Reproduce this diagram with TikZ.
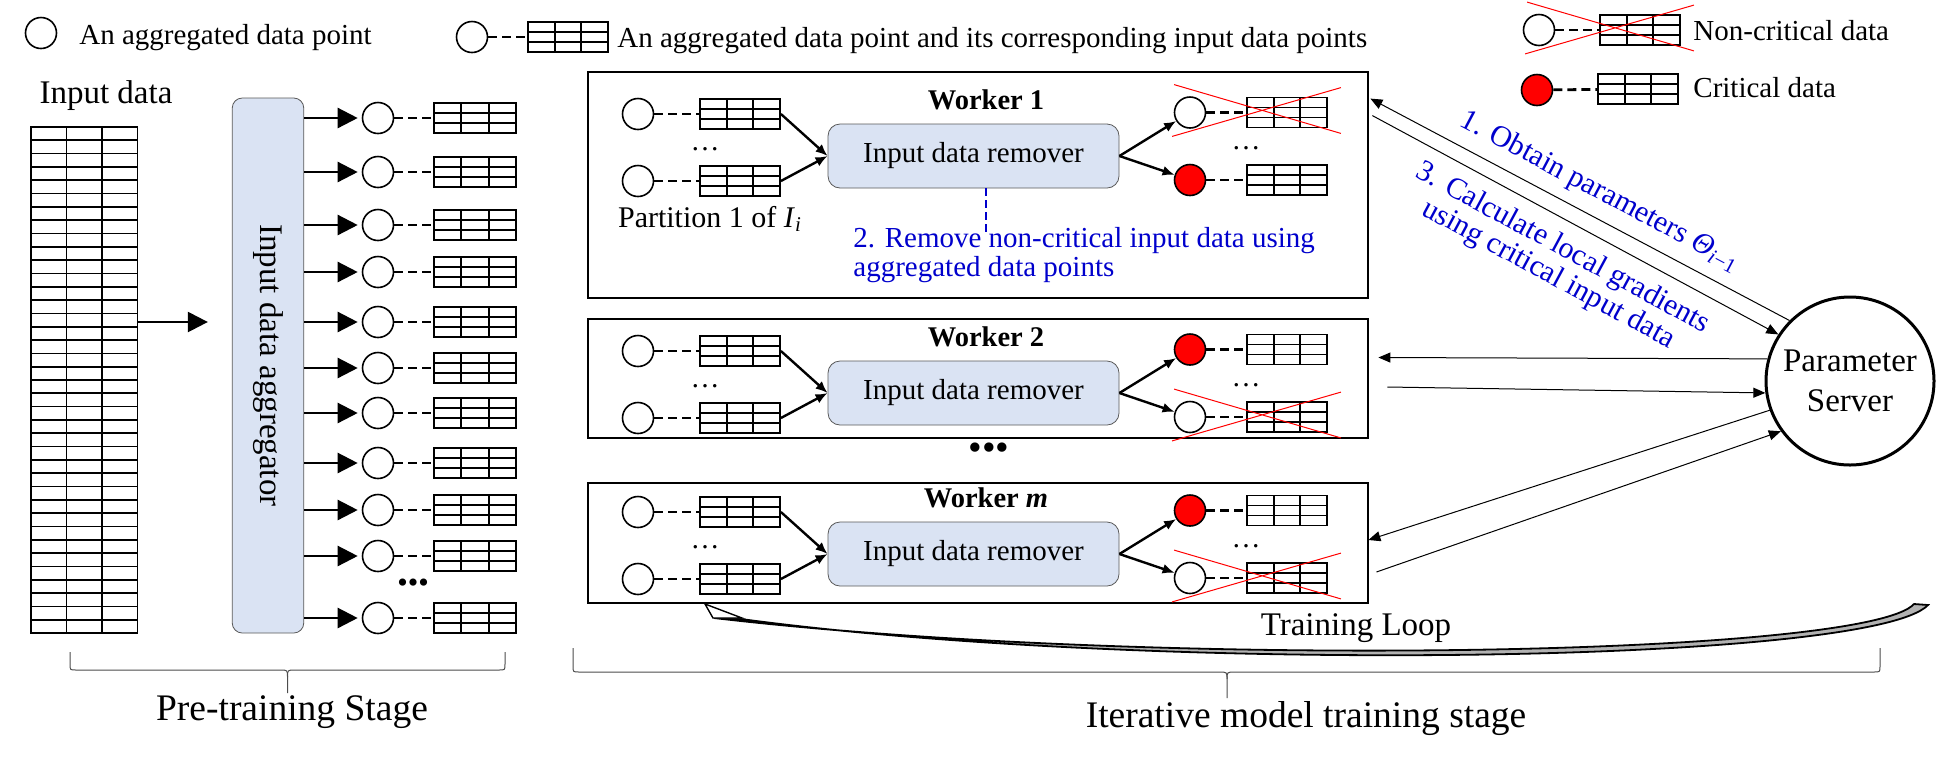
\documentclass[tikz,border=0pt]{standalone}
\usepackage{fontspec}
\setmainfont{Liberation Serif}
\usepackage{tikz}
\usetikzlibrary{arrows.meta, calc}
\usepackage{xcolor}
\definecolor{boxblue}{RGB}{218,227,243}
\definecolor{stepblue}{RGB}{0,0,204}

\begin{document}
\begin{tikzpicture}[x=0.5pt, y=-0.5pt,
    aggpt/.style={circle, draw, line width=0.8pt, minimum size=15.5pt, inner sep=0pt},
    crit/.style={aggpt, fill=red},
    tab/.style={draw, line width=0.9pt, minimum width=40pt, minimum height=15pt, inner sep=0pt,
      path picture={
        \foreach \k in {1,2} {
          \draw[line width=0.9pt] ($(path picture bounding box.north west)!\k/3!(path picture bounding box.north east)$) -- ($(path picture bounding box.south west)!\k/3!(path picture bounding box.south east)$);
          \draw[line width=0.9pt] ($(path picture bounding box.north west)!\k/3!(path picture bounding box.south west)$) -- ($(path picture bounding box.north east)!\k/3!(path picture bounding box.south east)$);
        }}},
    inputtab/.style={draw, line width=0.85pt, minimum width=53.25pt, minimum height=253pt, inner sep=0pt,
      path picture={
        \foreach \k in {1,...,37}
          \draw[line width=0.85pt] ($(path picture bounding box.north west)!\k/38!(path picture bounding box.south west)$) -- ($(path picture bounding box.north east)!\k/38!(path picture bounding box.south east)$);
        \foreach \k in {1,2}
          \draw[line width=0.85pt] ($(path picture bounding box.north west)!\k/3!(path picture bounding box.north east)$) -- ($(path picture bounding box.south west)!\k/3!(path picture bounding box.south east)$);
      }},
    link/.style={line width=1.4pt, dash pattern=on 4.5pt off 2.5pt},
    bigarrow/.style={line width=1.2pt, -{Triangle[length=10pt,width=10pt]}},
    warrow/.style={line width=1.2pt, -{Latex[length=6pt,width=5pt]}},
    psarrow/.style={line width=0.5pt, -{Triangle[length=6pt,width=5pt]}},
    remover/.style={draw=black!65, fill=boxblue, rounded corners=6pt, minimum width=145.5pt, minimum height=32pt, font=\fontsize{14.5}{17}\selectfont},
    wbox/.style={draw, line width=1.4pt, minimum width=390pt, inner sep=0pt},
    wtitle/.style={font=\fontsize{14.25}{17}\selectfont\bfseries},
    xline/.style={red, line width=0.5pt},
    brace/.style={black!70, line width=0.5pt},
    legend/.style={font=\fontsize{14.5}{17}\selectfont, inner sep=0pt},
    steptext/.style={stepblue, font=\fontsize{14.5}{14.5}\selectfont, align=left, inner sep=0pt}]
    \useasboundingbox (0,0) rectangle (1958,762);

    % legend
    \node[aggpt] (lg1) at (41,33) {};
    \node[legend, anchor=base west] (lg1t) at (79,44) {An aggregated data point};
    \node[aggpt] (lg2) at (472,37) {};
    \node[tab] (lg2tab) at (568,37) {};
    \draw[link] (lg2) -- (lg2tab);
    \node[legend, anchor=base west] (lg2t) at (617,47) {An aggregated data point and its corresponding input data points};
    \node[aggpt] (lg3) at (1539,30) {};
    \node[tab] (lg3tab) at (1640,30) {};
    \draw[link] (lg3) -- (lg3tab);
    \node[legend, anchor=base west] (lg3t) at (1693,40) {Non-critical data};
    \node[crit] (lg4) at (1537,90) {};
    \node[tab] (lg4tab) at (1638,89) {};
    \draw[link] (lg4) -- (lg4tab);
    \node[legend, anchor=base west] (lg4t) at (1693,97) {Critical data};

    % pre-training stage
    \node[font=\fontsize{16.5}{20}\selectfont, anchor=base] (inlabel) at (106,103) {Input data};
    \node[inputtab] (inp) at (84.25,380) {};
    \node[draw=black!65, fill=boxblue, rounded corners=5pt, rotate=-90, minimum width=267.5pt, minimum height=35.75pt,
          inner sep=0pt, font=\fontsize{16.5}{20}\selectfont] (agg) at (268,365.5) {Input data aggregator};
    \draw[bigarrow, shorten >=12pt] (inp.east |- 0,322) -- (agg.south |- 0,322);
    \foreach \y [count=\i] in {118,172,225,272,322,368,413,463,510,556,618} {
        \node[aggpt] (pc\i) at (378,\y) {};
        \node[tab, minimum width=41pt] (ptab\i) at (475,\y) {};
        \draw[bigarrow, shorten >=2pt] (agg.north |- pc\i) -- (pc\i);
        \draw[link] (pc\i) -- (ptab\i);
    }
    \node[font=\fontsize{15}{15}\selectfont] (pdots) at (413,586) {\textbullet\textbullet\textbullet};
    \draw[brace] (70,652) -- (70,664) .. controls (70,670) .. (76,670) -- (280,670) .. controls (287.5,670) .. (287.5,677) -- (287.5,693);
    \draw[brace] (505,652) -- (505,664) .. controls (505,670) .. (499,670) -- (295,670) .. controls (287.5,670) .. (287.5,677);
    \node[font=\fontsize{18.75}{22}\selectfont, anchor=base] (pretxt) at (292,720) {Pre-training Stage};

    % workers
    \node[wbox, minimum height=113pt] (w1) at (978,185) {};
    \node[wbox, minimum height=59.5pt] (w2) at (978,378.5) {};
    \node[wbox, minimum height=60pt] (wm) at (978,543) {};
    \foreach \w/\yb/\ttl/\ca/\cb in {1/147.5/Worker 1/aggpt/crit, 2/384.5/Worker 2/crit/aggpt, m/545.5/Worker \textit{m}/crit/aggpt} {
        \node[wtitle, anchor=base] (wt\w) at (986,\yb-38) {\ttl};
        \node[aggpt] (lca\w) at (638,\yb-33.5) {};
        \node[aggpt] (lcb\w) at (638,\yb+33.5) {};
        \node[tab] (lta\w) at (740,\yb-33.5) {};
        \node[tab] (ltb\w) at (740,\yb+33.5) {};
        \draw[link] (lca\w) -- (lta\w);
        \draw[link] (lcb\w) -- (ltb\w);
        \node[font=\fontsize{14.5}{17}\selectfont] (ldots\w) at (705,\yb+2) {\dots};
        \node[remover] (rem\w) at (973.5,\yb+8.5) {Input data remover};
        \draw[warrow] (lta\w.east) -- (rem\w.west);
        \draw[warrow] (ltb\w.east) -- (rem\w.west);
        \node[\ca] (rca\w) at (1190,\yb-35) {};
        \node[\cb] (rcb\w) at (1190,\yb+32.5) {};
        \node[tab] (rta\w) at (1287,\yb-35) {};
        \node[tab] (rtb\w) at (1287,\yb+32.5) {};
        \draw[link] (rca\w) -- (rta\w);
        \draw[link] (rcb\w) -- (rtb\w);
        \node[font=\fontsize{14.5}{17}\selectfont] (rdots\w) at (1246,\yb+1) {\dots};
        \draw[warrow] (rem\w.east) -- (rca\w);
        \draw[warrow] (rem\w.east) -- (rcb\w);
    }
    % crossed out (non-critical)
    \foreach \t in {lg3tab, rta1, rtb2, rtbm}
        \draw[xline] ($(\t.north west)+(-72,-12)$) -- ($(\t.south east)+(13,5)$)
                     ($(\t.south west)+(-74,8)$) -- ($(\t.north east)+(13,-9)$);
    \node[font=\fontsize{19.5}{20}\selectfont] (wdots) at (989,452) {\textbullet\textbullet\textbullet};

    % worker 1 labels
    \node[anchor=base west, font=\fontsize{15}{18}\selectfont] (part) at (611,227) {Partition 1 of \textit{I}\textsubscript{\textit{i}}};
    \draw[stepblue, line width=1pt, dash pattern=on 4pt off 2pt] ($(rem1.south)+(12,0)$) -- ++(0,47);
    \node[steptext, anchor=north west] (step2) at (853,227) {2. Remove non-critical input data using\\aggregated data points};

    % parameter server
    \node[circle, draw, line width=1.5pt, minimum size=84pt, align=center, inner sep=0pt,
          font=\fontsize{16.5}{20}\selectfont] (ps) at (1850,381) {Parameter\\Server};
    \draw[psarrow] (ps.135) -- ($(w1.north east)+(1,28)$)
        node[pos=0.48, above=2pt, sloped, stepblue, font=\fontsize{15}{15}\selectfont] {1. Obtain parameters \textit{Θ}\textsubscript{\textit{i}−1}};
    \draw[psarrow] ($(w1.north east)+(3,45)$) -- (ps.147)
        node[midway, below=3pt, sloped, align=center, stepblue, font=\fontsize{15}{15}\selectfont] {3. Calculate local gradients\\using critical input data};
    \draw[psarrow] (ps.165) -- ($(w2.east)+(9,-21)$);
    \draw[psarrow] ($(w2.east)+(18,8.5)$) -- (ps.188);
    \draw[psarrow] (ps.200) -- ($(wm.east)+(-1,-3)$);
    \draw[psarrow] ($(wm.east)+(7,29)$) -- (ps.216);

    % training loop
    \filldraw[fill=black!30, draw=black, line width=0.9pt] (1928,605) .. controls (1872,664) and (1150,674) .. (741,619)
        -- (714,618) .. controls (1150,669) and (1866,657) .. (1914,604) -- cycle;
    \draw[line width=0.7pt, fill=white] (705,604) -- (742,618) -- (713,618) -- cycle;
    \node[font=\fontsize{16.5}{20}\selectfont, anchor=base] (loop) at (1356,635) {Training Loop};
    \draw[brace] (573,648) -- (573,666) .. controls (573,672) .. (579,672) -- (1219,672) .. controls (1227,672) .. (1227,679) -- (1227,698);
    \draw[brace] (1880,648) -- (1880,666) .. controls (1880,672) .. (1874,672) -- (1235,672) .. controls (1227,672) .. (1227,679);
    \node[font=\fontsize{18.75}{22}\selectfont, anchor=base] (itertxt) at (1306,727) {Iterative model training stage};
\end{tikzpicture}
\end{document}
